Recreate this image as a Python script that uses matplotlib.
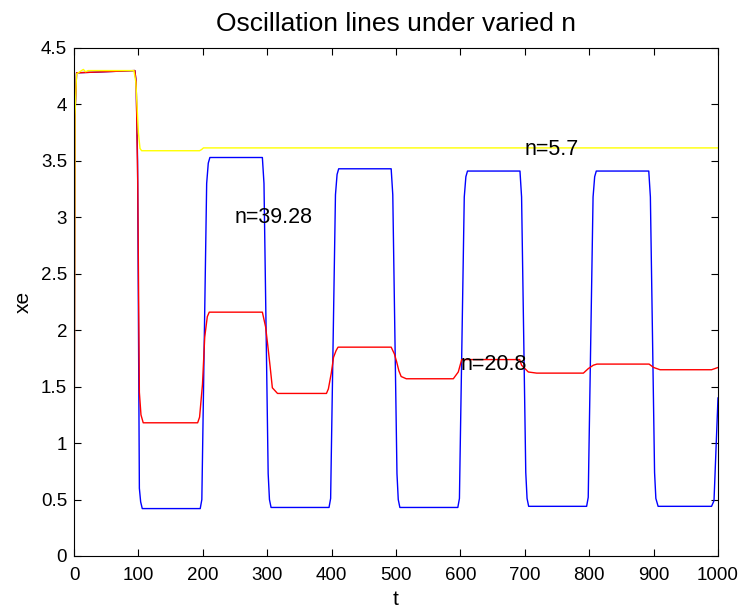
import matplotlib
matplotlib.use("Agg")
import matplotlib.pyplot as plt

plt.rcParams['font.family'] = ['Liberation Sans', 'DejaVu Sans']

title = "Oscillation lines under varied n"
xlabel = "t"
ylabel = "xe"

blue_t = [0, 1.5, 4, 94.5, 96.5, 98.7, 101.5, 103.5, 106,
          196, 198.5, 199.5, 206, 208.5, 211,
          292.5, 295, 301.5, 303.5, 306,
          396, 398.5, 399.5, 406, 408.5, 411,
          492.5, 495, 501.5, 503.5, 506,
          596, 598.5, 599.5, 606, 608.5, 611,
          692.5, 695, 701.5, 703.5, 706,
          796, 798.5, 799.5, 806, 808.5, 811,
          892.5, 895, 901.5, 903.5, 907,
          990, 993.8, 1000]
blue_v = [0, 3.9, 4.28, 4.30, 4.2, 3.5, 0.6, 0.48, 0.42,
          0.42, 0.50, 0.87, 3.30, 3.48, 3.53,
          3.53, 3.30, 0.73, 0.50, 0.43,
          0.43, 0.51, 0.88, 3.20, 3.38, 3.43,
          3.43, 3.20, 0.73, 0.50, 0.43,
          0.43, 0.51, 0.88, 3.18, 3.36, 3.41,
          3.41, 3.18, 0.74, 0.51, 0.44,
          0.44, 0.52, 0.89, 3.18, 3.36, 3.41,
          3.41, 3.18, 0.74, 0.51, 0.44,
          0.44, 0.49, 1.40]

red_t = [0, 1.5, 4, 94.5, 96.5, 99, 101.5, 104, 107.5,
         192, 195, 199.5, 203, 207, 210,
         292.5, 297.5, 301, 304.5, 308, 316,
         392, 395, 399.5, 403, 407, 410,
         492.5, 497.5, 501, 504.5, 508, 516,
         589, 596.7, 602,
         692, 695, 705.5, 718.5,
         791, 798.6, 806.4, 812,
         893, 900, 910,
         990, 1000]
red_v = [0, 3.9, 4.28, 4.30, 4.2, 3.3, 1.45, 1.25, 1.18,
         1.18, 1.23, 1.52, 1.94, 2.12, 2.16,
         2.16, 2.03, 1.86, 1.68, 1.49, 1.44,
         1.44, 1.48, 1.62, 1.76, 1.82, 1.85,
         1.85, 1.79, 1.72, 1.64, 1.59, 1.57,
         1.57, 1.63, 1.74,
         1.74, 1.69, 1.63, 1.62,
         1.62, 1.66, 1.69, 1.70,
         1.70, 1.67, 1.65,
         1.65, 1.67]

yellow_t = [0, 1.5, 4, 9, 14.5, 18, 22, 93, 96, 98, 100, 102.5, 105,
            195, 198, 201, 1000]
yellow_v = [0, 3.9, 4.27, 4.29, 4.31, 4.29, 4.30, 4.30, 4.2, 3.98, 3.75, 3.61, 3.59,
            3.59, 3.60, 3.615, 3.615]

labels = ["n=39.28", "n=20.8", "n=5.7"]
label_t = [250, 600, 700]
label_v = [3.0, 1.7, 3.6]

xticks = [0, 100, 200, 300, 400, 500, 600, 700, 800, 900, 1000]
yticks = [0, 0.5, 1, 1.5, 2, 2.5, 3, 3.5, 4, 4.5]

fig = plt.figure(figsize=(7.41, 6.10), dpi=100)
ax = fig.add_axes([74/741, 1 - 556/610, (718 - 74)/741, (556 - 48)/610])

ax.plot(blue_t, blue_v, color=(0, 0, 1), lw=1.0)
ax.plot(red_t, red_v, color=(1, 0, 0), lw=1.0)
ax.plot(yellow_t, yellow_v, color=(1, 1, 0), lw=1.0)

for s, tx, ty in zip(labels, label_t, label_v):
    ax.text(tx, ty, s, ha='left', va='center', fontsize=15.5)

ax.set_xlim(0, 1000)
ax.set_ylim(0, 4.5)
ax.set_xticks(xticks)
ax.set_xticklabels([str(v) for v in xticks])
ax.set_yticks(yticks)
ax.set_yticklabels([("%g" % v) for v in yticks])
ax.tick_params(direction='in', top=True, right=True, length=5, width=0.8,
               labelsize=13.5)
ax.tick_params(axis='x', pad=8)
ax.tick_params(axis='y', pad=5)
for sp in ax.spines.values():
    sp.set_linewidth(0.8)
    sp.set_color('black')

ax.set_title(title, fontsize=19, pad=12)
ax.set_xlabel(xlabel, fontsize=15, labelpad=4)
ax.set_ylabel(ylabel, fontsize=15, labelpad=6)

fig.savefig("out.png", dpi=100)
